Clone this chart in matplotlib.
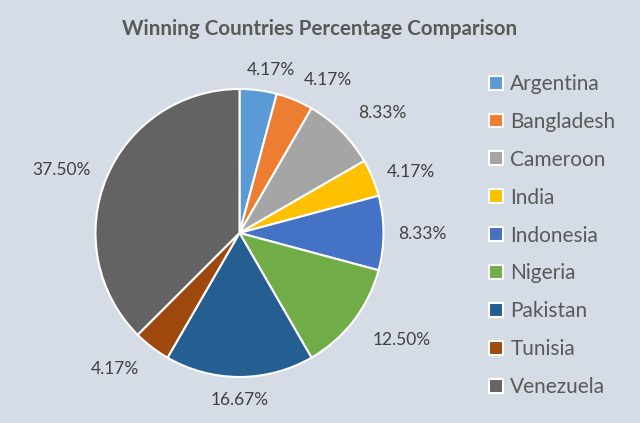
import matplotlib
matplotlib.use("Agg")
import matplotlib.pyplot as plt
from matplotlib.patches import Patch

countries = ["Argentina", "Bangladesh", "Cameroon", "India", "Indonesia",
             "Nigeria", "Pakistan", "Tunisia", "Venezuela"]
percentages = [4.17, 4.17, 8.33, 4.17, 8.33, 12.50, 16.67, 4.17, 37.50]
colors = ["#5B9BD5", "#ED7D31", "#A5A5A5", "#FFC000", "#4472C4",
          "#70AD47", "#255E91", "#9E480E", "#636363"]

# where each percentage label sits, in pie radii from the centre (Excel "best fit")
label_xy = [(0.22, 1.13), (0.615, 1.06), (0.99, 0.833), (1.19, 0.424), (1.27, -0.01),
            (1.125, -0.743), (0.0, -1.16), (-0.868, -0.944), (-1.233, 0.4375)]

plt.rcParams['font.family'] = ['Lato', 'DejaVu Sans']
bg = "#D6DCE5"

fig = plt.figure(figsize=(6.4, 4.23), dpi=100, facecolor=bg)
ax = fig.add_axes([0.1492, 0.1088, 0.45, 0.6809])
ax.set_facecolor(bg)

wedges, _ = ax.pie(percentages, colors=colors, startangle=90, counterclock=False,
                   wedgeprops=dict(edgecolor="white", linewidth=1.5))
ax.set_xlim(-1, 1)
ax.set_ylim(-1, 1)
ax.axis("off")

for pct, (x, y) in zip(percentages, label_xy):
    ax.text(x, y, f"{pct:.2f}%", ha="center", va="center",
            fontsize=12.5, color="#404040")

fig.text(0.5, 0.931, "Winning Countries Percentage Comparison", ha="center", va="center",
         fontsize=14.8, fontweight="bold", color="#595959")

handles = [Patch(facecolor=c, edgecolor="white", linewidth=1.5) for c in colors]
fig.legend(handles, countries, loc="upper left", bbox_to_anchor=(0.751, 0.845),
           frameon=False, fontsize=15, labelcolor="#595959",
           handlelength=0.65, handleheight=0.65, handletextpad=0.38,
           labelspacing=0.86, borderaxespad=0)

fig.savefig("out.png", dpi=100, facecolor=bg, edgecolor="#BFBFBF")
